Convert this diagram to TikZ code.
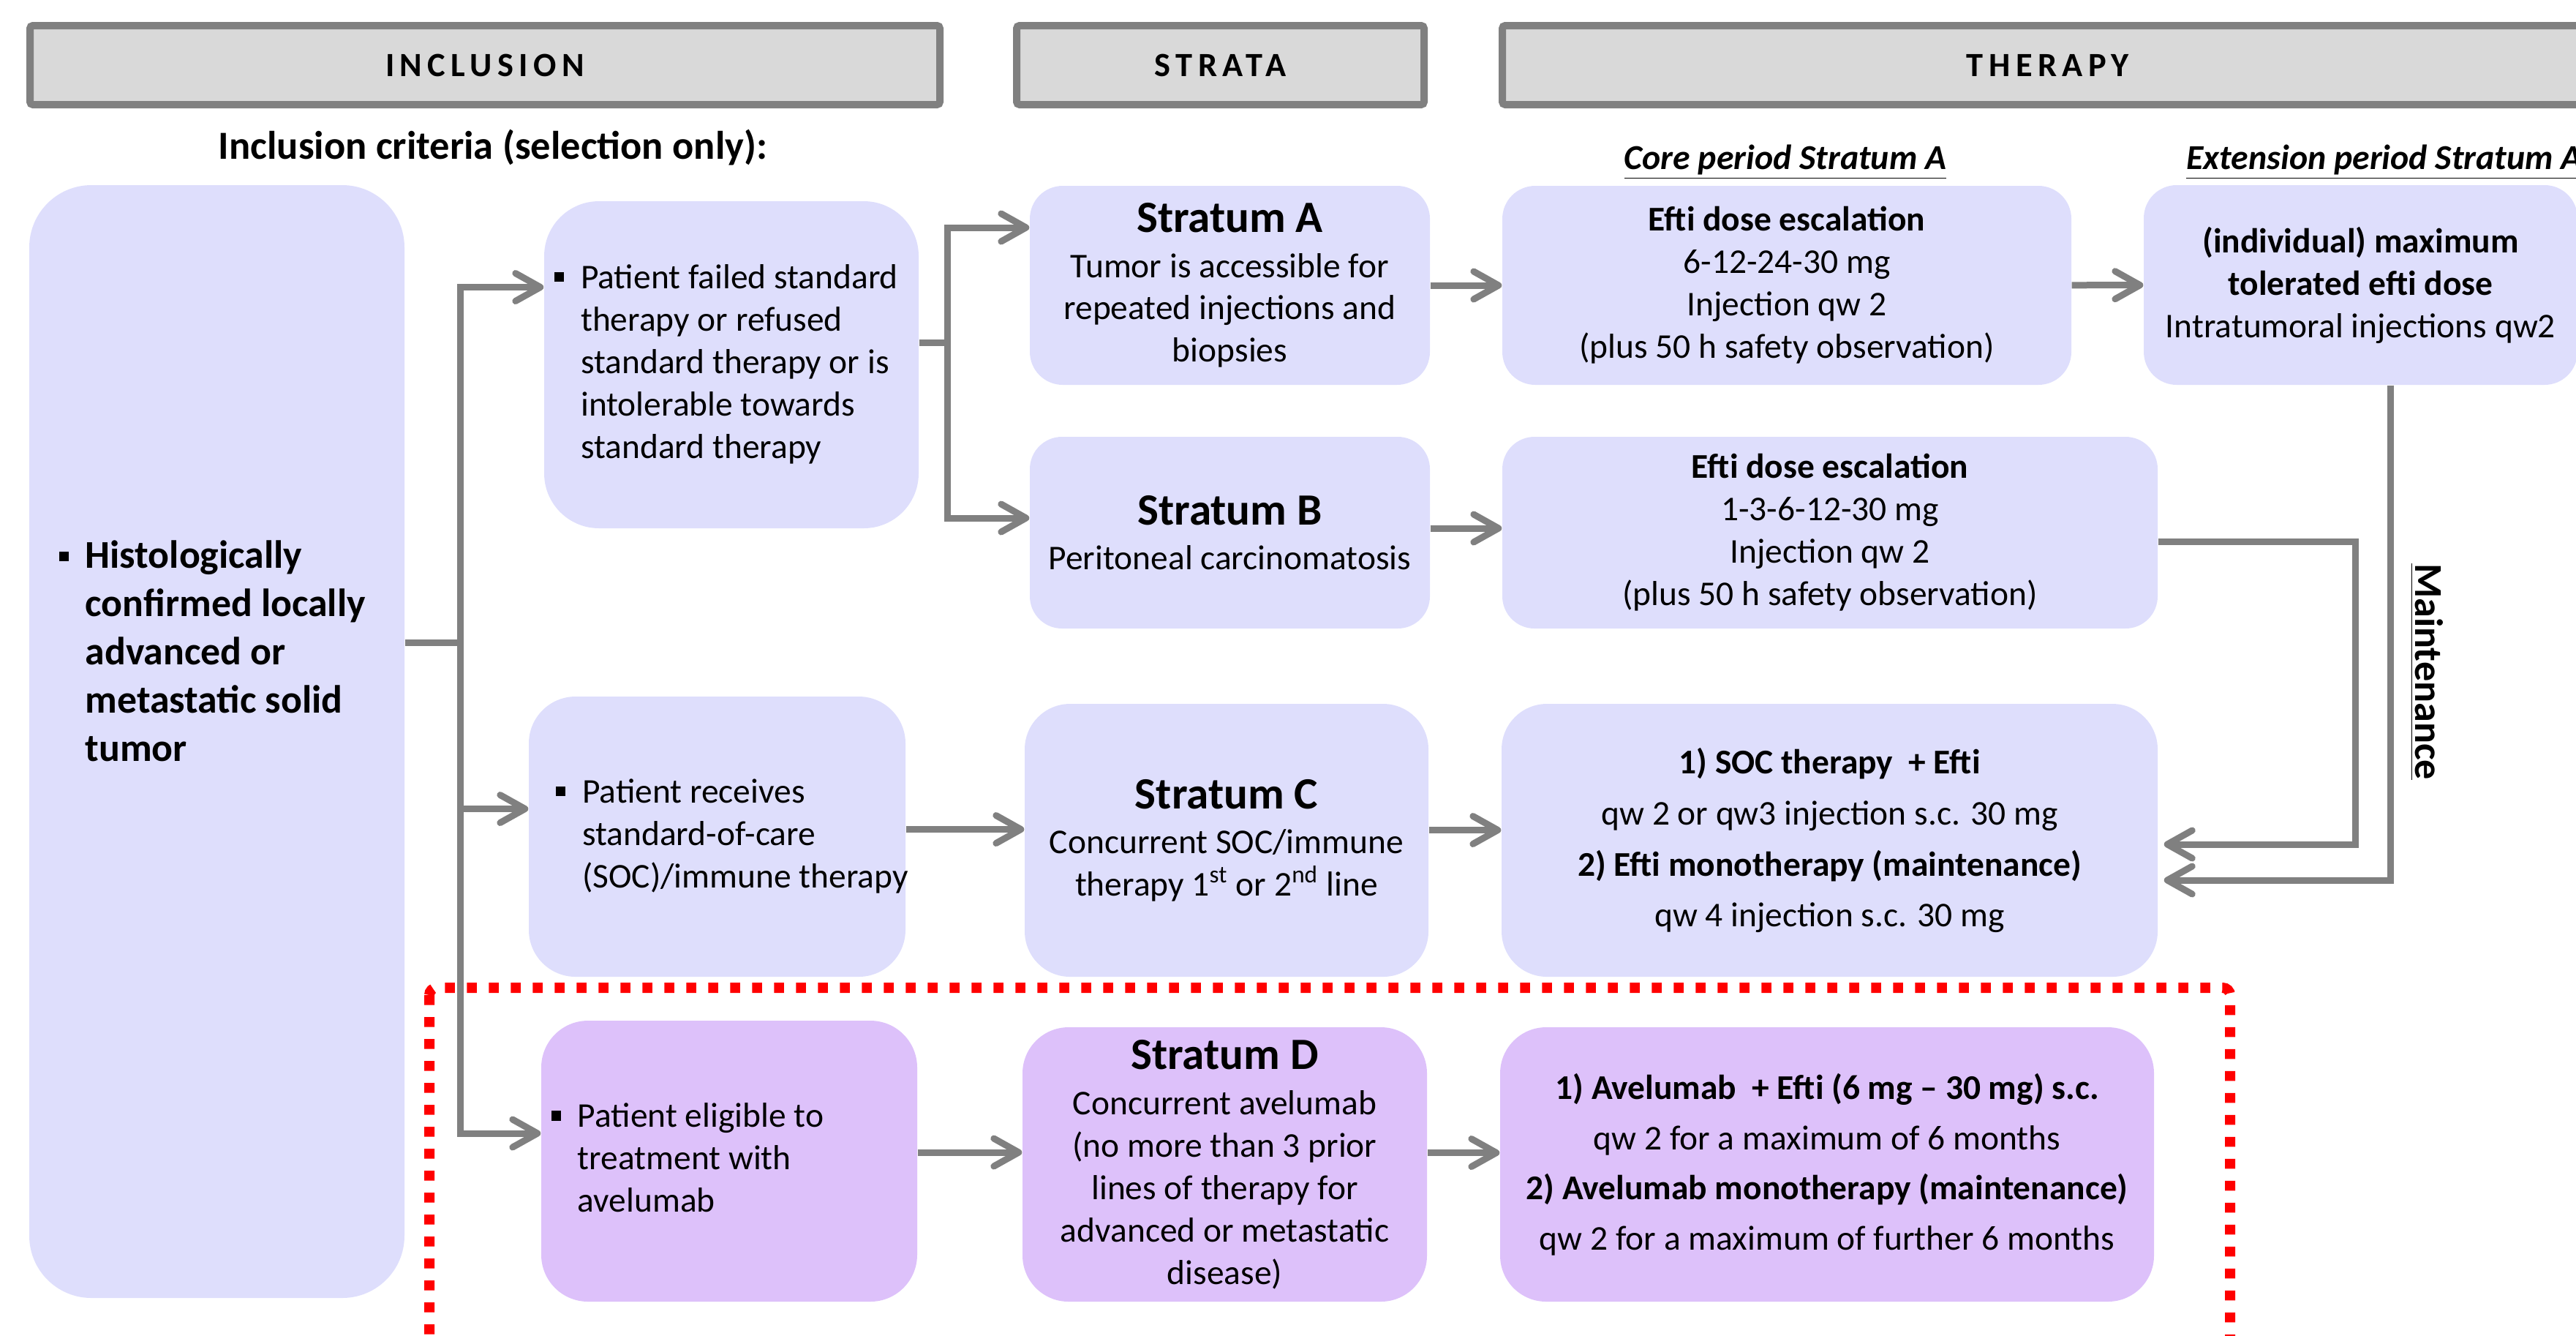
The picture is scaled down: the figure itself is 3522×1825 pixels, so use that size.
\documentclass[tikz,border=0pt]{standalone}
\usepackage{fontspec}
\setmainfont{Carlito}
\newfontfamily\headfont[LetterSpace=16]{Carlito}
\usetikzlibrary{arrows.meta}

\definecolor{boxblue}{RGB}{222,222,252}
\definecolor{boxviolet}{RGB}{221,193,250}
\definecolor{headgray}{RGB}{217,217,217}
\definecolor{linegray}{RGB}{128,128,128}

\newcommand{\sqb}{\rule[0.9mm]{1.3mm}{1.35mm}}
\newcommand{\strat}[1]{{\fontsize{17.4}{20}\selectfont\bfseries #1}}

\tikzset{
  head/.style={draw=linegray, line width=1mm, fill=headgray, rounded corners=0.4mm,
    minimum height=10.8mm, inner sep=0pt, font=\headfont\bfseries\fontsize{13.2}{16}\selectfont},
  panel/.style={fill=boxblue, inner sep=0pt, align=center, font=\fontsize{13.5}{16.5}\selectfont},
  link/.style={draw=linegray, line width=0.9mm},
  arrow/.style={link, -{Straight Barb[length=3.4mm, width=3.8mm, round]}},
}

\begin{document}
\begin{tikzpicture}[x=0.1mm, y=-0.1mm]
  \useasboundingbox (0,0) rectangle (3522,1825);

  % column headers
  \node[head, minimum width=124.4mm] (hIncl) at (663,89) {INCLUSION};
  \node[head, minimum width=55.7mm] (hStrata) at (1668.5,89) {STRATA};
  \node[head, minimum width=149.2mm] (hTher) at (2800,89) {THERAPY};

  \node[anchor=base, font=\bfseries\fontsize{15.5}{18}\selectfont] (crit) at (674,217) {Inclusion criteria (selection only):};
  \node[anchor=base, font=\bfseries\itshape\fontsize{13.6}{16}\selectfont] (coreLbl) at (2441,231) {\underline{Core period Stratum A}};
  \node[anchor=base west, font=\bfseries\itshape\fontsize{13.6}{16}\selectfont] (extLbl) at (2977,231) {\underline{Extension period Stratum A}};

  % avelumab frame
  \draw[red, line width=1.4mm, dash pattern=on 1.35mm off 1.65mm, rounded corners=1mm] (587,1350) rectangle (3049,1842);

  % inclusion
  \node[panel, rounded corners=8.5mm, minimum width=51.3mm, minimum height=152.1mm] (hist) at (296.5,1013.5) {};
  \node[anchor=base west, inner sep=0pt, font=\bfseries\fontsize{15.3}{18.8}\selectfont] (histTxt) at (80,776)
    {\begin{tabular}[t]{@{}l@{\hspace{2.3mm}}l@{}}\sqb & Histologically\\ & confirmed locally\\ & advanced or\\ & metastatic solid\\ & tumor\end{tabular}};

  \node[panel, rounded corners=7.5mm, minimum width=51.2mm, minimum height=44.7mm] (failed) at (1000,498.5)
    {\begin{tabular}{@{}l@{\hspace{2.3mm}}l@{\hspace{1.4mm}}}\sqb & Patient failed standard\\ & therapy or refused\\ & standard therapy or is\\ & intolerable towards\\ & standard therapy\end{tabular}};
  \node[panel, rounded corners=6.4mm, minimum width=51.5mm, minimum height=38.3mm] (soc) at (980.5,1143.5)
    {\begin{tabular}{@{}l@{\hspace{2.3mm}}l@{\hspace{-4.1mm}}}\sqb & Patient receives\\ & standard-of-care\\ & (SOC)/immune therapy\end{tabular}};
  \node[panel, fill=boxviolet, rounded corners=6.4mm, minimum width=51.4mm, minimum height=38.4mm] (avel) at (997,1587)
    {\begin{tabular}{@{}l@{\hspace{2.3mm}}l@{\hspace{11.4mm}}}\sqb & Patient eligible to\\ & treatment with\\ & avelumab\end{tabular}};

  % strata
  \node[panel, rounded corners=4.5mm, minimum width=54.7mm, minimum height=27.2mm] (stratA) at (1681.5,390)
    {\strat{Stratum A}\\[1pt]Tumor is accessible for\\repeated injections and\\biopsies};
  \node[panel, rounded corners=4.4mm, minimum width=54.7mm, minimum height=26.2mm] (stratB) at (1681.5,728)
    {\strat{Stratum B}\\[1pt]Peritoneal carcinomatosis};
  \node[panel, rounded corners=6.2mm, minimum width=55.2mm, minimum height=37.3mm] (stratC) at (1677,1148.5)
    {\strat{Stratum C}\\[1pt]Concurrent SOC/immune\\therapy 1\textsuperscript{st} or 2\textsuperscript{nd} line};
  \node[panel, fill=boxviolet, rounded corners=6.3mm, minimum width=55.3mm, minimum height=37.5mm] (stratD) at (1674.5,1591.5)
    {\strat{Stratum D}\\[1pt]Concurrent avelumab\\(no more than 3 prior\\lines of therapy for\\advanced or metastatic\\disease)};

  % therapy
  \node[panel, rounded corners=4.5mm, minimum width=77.8mm, minimum height=27.2mm] (core) at (2443,390)
    {\textbf{Efti dose escalation}\\6-12-24-30 mg\\Injection qw 2\\(plus 50 h safety observation)};
  \node[panel, rounded corners=4.5mm, minimum width=59.3mm, minimum height=27.3mm] (ext) at (3227.5,389.5)
    {\textbf{(individual) maximum}\\\textbf{tolerated efti dose}\\Intratumoral injections qw2};
  \node[panel, rounded corners=4.4mm, minimum width=89.6mm, minimum height=26.2mm] (effB) at (2502,728)
    {\textbf{Efti dose escalation}\\1-3-6-12-30 mg\\Injection qw 2\\(plus 50 h safety observation)};
  \node[panel, rounded corners=6.2mm, minimum width=89.7mm, minimum height=37.3mm, font=\fontsize{13.5}{19.9}\selectfont] (socT) at (2501.5,1148.5)
    {\textbf{1) SOC therapy \ + Efti}\\qw 2 or qw3 injection s.c. 30 mg\\\textbf{2) Efti monotherapy (maintenance)}\\qw 4 injection s.c. 30 mg};
  \node[panel, fill=boxviolet, rounded corners=6.3mm, minimum width=89.4mm, minimum height=37.5mm, font=\fontsize{13.5}{19.5}\selectfont] (avelT) at (2498,1591.5)
    {\textbf{1) Avelumab \ + Efti (6 mg – 30 mg) s.c.}\\qw 2 for a maximum of 6 months\\\textbf{2) Avelumab monotherapy (maintenance)}\\qw 2 for a maximum of further 6 months};

  \node[rotate=-90, font=\bfseries\fontsize{15.4}{18}\selectfont] (maint) at (3318,918) {\underline{Maintenance}};

  % connectors
  \coordinate (trunk) at (629,878);
  \draw[link] (hist.east |- trunk) -- (trunk);
  \draw[arrow] (trunk) |- ([yshift=10.6mm]failed.west);
  \draw[arrow] (trunk) |- ([yshift=3.8mm]soc.west);
  \draw[arrow] (trunk) |- ([yshift=3.8mm]avel.west);

  \coordinate (fork) at (1295,468);
  \draw[link] (failed.east |- fork) -- (fork);
  \draw[arrow] (fork) |- ([yshift=7.9mm]stratA.west);
  \draw[arrow] (fork) |- ([yshift=2mm]stratB.west);

  \draw[arrow] (stratA) -- (core);
  \draw[arrow] (core) -- (ext);
  \draw[arrow] ([yshift=0.6mm]stratB.east) -- ([yshift=0.6mm]effB.west);
  \draw[arrow] ([yshift=1mm]soc.east) -- ([yshift=1mm]soc.east -| stratC.west);
  \draw[arrow] ([yshift=1.4mm]stratC.east) -- ([yshift=1.4mm]socT.west);
  \draw[arrow] ([yshift=1.2mm]avel.east) -- ([yshift=1.2mm]avel.east -| stratD.west);
  \draw[arrow] ([yshift=1.6mm]stratD.east) -- ([yshift=1.6mm]avelT.west);

  \coordinate (mB) at (3220,1154);
  \draw[arrow] ([yshift=-1.2mm]effB.east) -| (mB) -- ([xshift=0.8mm]socT.east |- mB);
  \coordinate (mA) at (3268,1203);
  \draw[arrow] (ext.south -| mA) -- (mA) -- ([xshift=0.8mm]socT.east |- mA);
\end{tikzpicture}
\end{document}
